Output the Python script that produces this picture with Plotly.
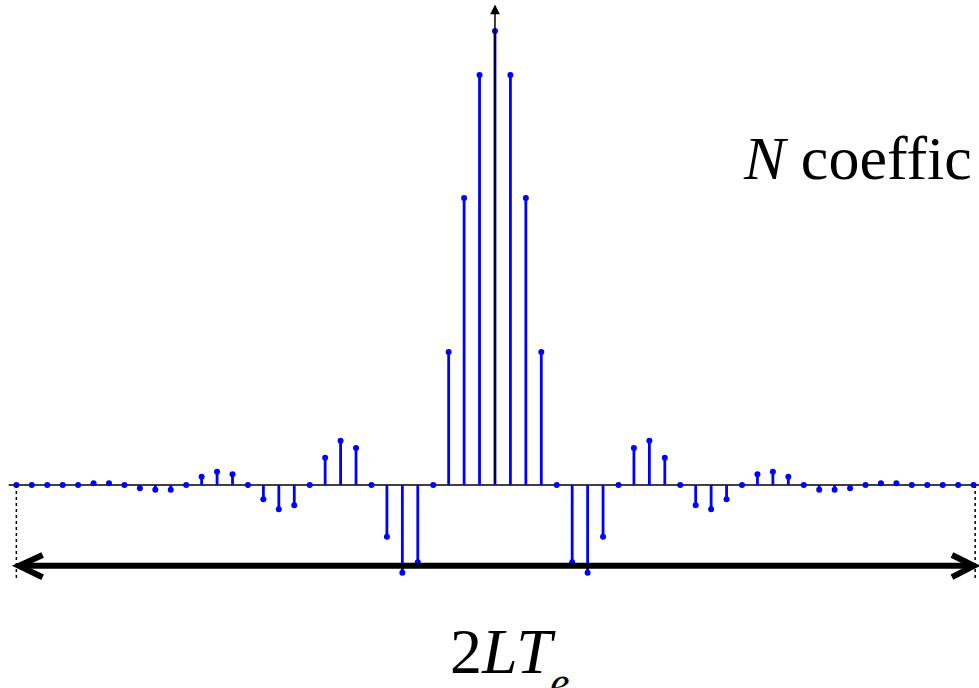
import plotly.graph_objects as go

# sample indices and (normalized) coefficient values
k = list(range(-31, 32))
right_half = [1.000, 0.903, 0.632, 0.293, 0.0, -0.170, -0.193, -0.114, 0.0,
              0.0815, 0.0976, 0.060, 0.0, -0.0447, -0.0535, -0.0315, 0.0,
              0.0236, 0.0293, 0.0183, 0.0, -0.0104, -0.0104, -0.0073, 0.0,
              0.0037, 0.0037, 0.0, 0.0, 0.0, 0.0, 0.0]
values = right_half[:0:-1] + right_half

top_text = "<i>N</i> coeffic"
bottom_text = "2<i>LT</i>"
bottom_sub = "<i>e</i>"

BLUE = "#0000FF"

# stems built from the data
sx, sy = [], []
for xi, vi in zip(k, values):
    sx += [xi, xi, None]
    sy += [0, vi, None]

fig = go.Figure()
fig.add_trace(go.Scatter(x=sx, y=sy, mode="lines",
                         line=dict(color=BLUE, width=2.8),
                         hoverinfo="skip", showlegend=False))
fig.add_trace(go.Scatter(x=k, y=values, mode="markers",
                         marker=dict(color=BLUE, size=6),
                         showlegend=False))

XR = [-32.06, 31.35]
YR = [-0.447, 1.068]

shapes = []
# baseline
shapes.append(dict(type="line", xref="x", yref="y", x0=-31.5, x1=31.4, y0=0, y1=0,
                   line=dict(color="black", width=1.5), layer="below"))
# dotted limits
for xd in (-31.0, 31.1):
    shapes.append(dict(type="line", xref="x", yref="y", x0=xd, x1=xd, y0=0, y1=-0.205,
                       line=dict(color="black", width=1.5, dash="dot")))
# double-headed arrow
ya = -0.178
shapes.append(dict(type="line", xref="x", yref="y", x0=-30.75, x1=30.95, y0=ya, y1=ya,
                   line=dict(color="black", width=6)))
shapes.append(dict(type="path", xref="x", yref="y",
                   path=f"M -29.3,-0.154 L -30.83,{ya} L -29.3,-0.203",
                   line=dict(color="black", width=6)))
shapes.append(dict(type="path", xref="x", yref="y",
                   path=f"M 29.6,-0.154 L 31.02,{ya} L 29.6,-0.203",
                   line=dict(color="black", width=6)))

annotations = [
    dict(x=0, y=1.058, xref="x", yref="y", ax=0, ay=0, axref="x", ayref="y",
         showarrow=True, arrowhead=2, arrowsize=1.3, arrowwidth=1.5,
         arrowcolor="black", text=""),
    dict(x=741 / 979, y=1 - 122 / 688, xref="paper", yref="paper",
         xanchor="left", yanchor="top", showarrow=False, text=top_text,
         font=dict(family="Liberation Serif", size=62, color="black")),
    dict(x=448 / 979, y=1 - 614 / 688, xref="paper", yref="paper",
         xanchor="left", yanchor="top", showarrow=False, text=bottom_text,
         font=dict(family="Liberation Serif", size=64, color="black")),
    dict(x=548 / 979, y=1 - 656 / 688, xref="paper", yref="paper",
         xanchor="left", yanchor="top", showarrow=False, text=bottom_sub,
         font=dict(family="Liberation Serif", size=44, color="black")),
]

fig.update_layout(
    width=979, height=688,
    margin=dict(l=0, r=0, t=0, b=0),
    paper_bgcolor="white", plot_bgcolor="white",
    xaxis=dict(range=XR, visible=False, fixedrange=True),
    yaxis=dict(range=YR, visible=False, fixedrange=True),
    shapes=shapes, annotations=annotations,
)

fig.write_html("out.html")
